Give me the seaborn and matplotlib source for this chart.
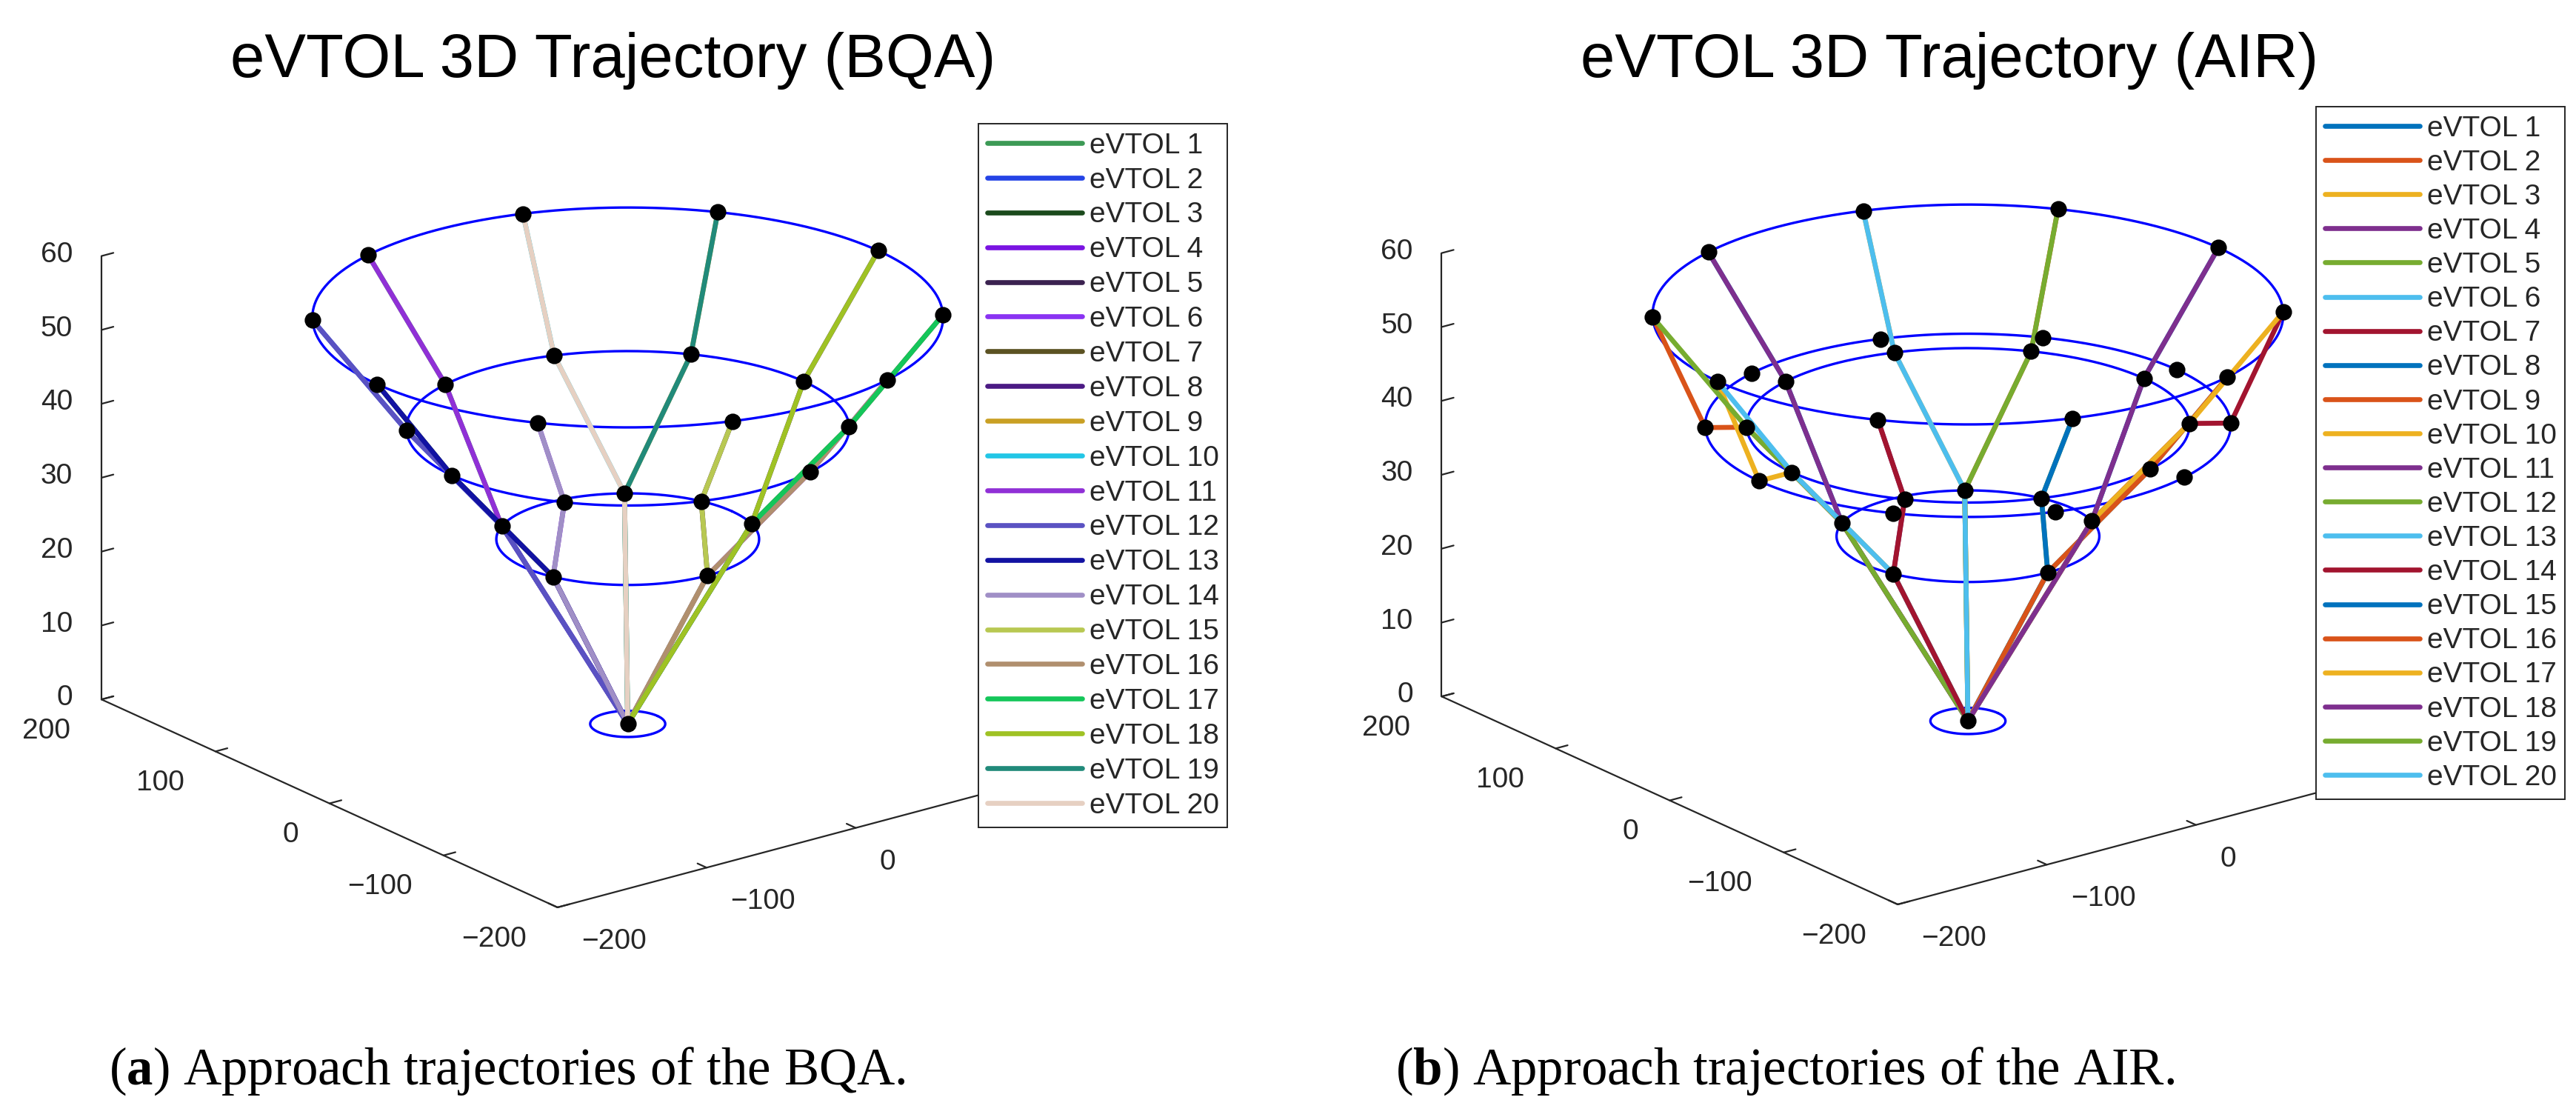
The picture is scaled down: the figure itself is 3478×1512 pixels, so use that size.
import numpy as np
import matplotlib
matplotlib.use("Agg")
import matplotlib.pyplot as plt
import seaborn as sns

sns.set_style("white")
plt.rcParams["font.family"] = ["Liberation Sans", "DejaVu Sans"]
plt.rcParams["mathtext.fontset"] = "custom"
plt.rcParams["mathtext.rm"] = "Liberation Serif"
plt.rcParams["mathtext.bf"] = "Liberation Serif:bold"

W, H = 3478, 1512

# ring heights and radii (A = entry ring, Bo = outer holding ring, B = inner ring, C = final ring, V = pad)
ring_z = {"A": 55, "Bo": 40, "B": 40, "C": 25, "V": 0}
ring_r = {"A": 168, "Bo": 140, "B": 118, "C": 70, "V": 20}

# waypoint angles (deg) on each ring
wp_angles = {
    "A": [0, 36, 72, 108, 144, 180, 216, 252, 288, 324],
    "Bo": [0, 36, 72, 108, 144, 180, 216, 252, 288, 324],
    "B": [0, 36, 72, 108, 144, 180, 216, 252, 288, 324],
    "C": [54, 126, 198, 270, 342],
}
pad_xyz = (0, 0, 0)

names = ["eVTOL %d" % i for i in range(1, 21)]

# BQA approach: ring A -> ring B -> ring C -> pad
bqa_a = [108, 144, 180, 216, 252, 288, 324, 0, 36, 72,
         108, 144, 180, 216, 252, 288, 324, 0, 36, 72]
bqa_b = [108, 144, 180, 216, 252, 288, 324, 0, 36, 72,
         108, 144, 180, 216, 252, 288, 324, 0, 36, 72]
bqa_c = [126, 126, 198, 198, 270, 270, 342, 342, 54, 54,
         126, 126, 198, 198, 270, 270, 342, 342, 54, 54]

# AIR approach: a few eVTOLs pass the outer ring first
air_a = [108, 144, 180, 216, 252, 288, 324, 0, 36, 72,
         108, 144, 180, 216, 252, 288, 324, 0, 36, 72]
air_bo = [None, 144, 180, None, None, None, 324, None, None, None,
          None, None, None, None, None, None, None, None, None, None]
air_b = [108, 144, 180, 216, 252, 288, 324, 0, 36, 72,
         108, 144, 180, 216, 252, 288, 324, 0, 36, 72]
air_c = [126, 126, 198, 198, 270, 270, 342, 342, 54, 54,
         126, 126, 198, 198, 270, 270, 342, 342, 54, 54]

bqa_colors = ["#3c9a55", "#2443e6", "#1b4a1c", "#7a14e2", "#3b2250",
              "#8a33f2", "#5b5222", "#4b1a84", "#c9a024", "#22c6e6",
              "#9030d6", "#5a52c2", "#1212a2", "#a08fc6", "#b8c852",
              "#b08f6e", "#14c65a", "#9fc224", "#218a7a", "#e6d0c2"]
air_colors = sns.color_palette(["#0072BD", "#D95319", "#EDB120", "#7E2F8E",
                                "#77AC30", "#4DBEEE", "#A2142F"], 7) * 3
air_colors = air_colors[:20]

xy_ticks = [-200, -100, 0, 100, 200]
x_ticklabels = ["\u2212200", "\u2212100", "0", "", ""]   # 100 / 200 sit behind the legend
y_ticklabels = ["\u2212200", "\u2212100", "0", "100", "200"]
z_ticks = [0, 10, 20, 30, 40, 50, 60]


def pt(ring, ang):
    t = np.deg2rad(ang)
    r = ring_r[ring]
    return r * np.cos(t), r * np.sin(t), ring_z[ring]


fig = plt.figure(figsize=(W / 200, H / 200), dpi=200)

S = 1172.0


def panel(cx, cy, rings, a, bo, b, c, colors, title, title_x, cap_b, cap_x, leg_xy, lab_sp):
    frac = 0.5135 * S
    rect = [(cx - frac) / W, (H - cy - frac) / H, S / W, S / H]
    ax = fig.add_axes(rect, projection="3d", proj_type="ortho", computed_zorder=False)

    tt = np.linspace(0, 2 * np.pi, 361)
    for rg in rings + ["V"]:
        ax.plot(ring_r[rg] * np.cos(tt), ring_r[rg] * np.sin(tt),
                np.full(tt.shape, ring_z[rg]), color="#0000ff", lw=1.2)

    lines = []
    for i in range(20):
        seq = [pt("A", a[i])]
        if bo is not None and bo[i] is not None:
            seq.append(pt("Bo", bo[i]))
        seq += [pt("B", b[i]), pt("C", c[i]), pad_xyz]
        xyz = np.array(seq, dtype=float)
        ln, = ax.plot(xyz[:, 0], xyz[:, 1], xyz[:, 2], color=colors[i],
                      lw=2.4, label=names[i])
        lines.append(ln)

    for rg in rings:
        xyz = np.array([pt(rg, ang) for ang in wp_angles[rg]], dtype=float)
        ax.plot(xyz[:, 0], xyz[:, 1], xyz[:, 2], ls="none", marker="o",
                ms=7, color="black")
    ax.plot([pad_xyz[0]], [pad_xyz[1]], [pad_xyz[2]], ls="none", marker="o",
            ms=7, color="black")

    ax.set_xlim(-200, 200)
    ax.set_ylim(-200, 200)
    ax.set_zlim(0, 60)
    ax.set_xticks(xy_ticks)
    ax.set_xticklabels(x_ticklabels)
    ax.set_yticks(xy_ticks)
    ax.set_yticklabels(y_ticklabels)
    ax.set_zticks(z_ticks)
    ax.view_init(elev=20.4, azim=-127.4)
    ax.set_box_aspect((1, 1, 0.63), zoom=1.3)
    ax.grid(False)
    for axis in (ax.xaxis, ax.yaxis, ax.zaxis):
        axis.set_pane_color((1, 1, 1, 0))
        axis.pane.set_edgecolor((1, 1, 1, 0))
        axis.line.set_color("#262626")
        axis.line.set_linewidth(0.8)
        axis._axinfo["tick"]["inward_factor"] = 0.0
        axis._axinfo["tick"]["outward_factor"] = 0.25
        axis._axinfo["tick"]["color"] = "#262626"
    ax.tick_params(labelsize=14, colors="#262626")
    ax.tick_params(axis="z", pad=-2)
    for lab in ax.get_xticklabels():
        lab.set_horizontalalignment("left")
        lab.set_verticalalignment("center")
    for lab in ax.get_yticklabels():
        lab.set_horizontalalignment("right")
        lab.set_verticalalignment("center")
    for lab in ax.get_zticklabels():
        lab.set_horizontalalignment("right")
        lab.set_verticalalignment("center")

    ax.legend(handles=lines, loc="upper left",
              bbox_to_anchor=(leg_xy[0] / W, 1 - leg_xy[1] / H),
              bbox_transform=fig.transFigure, fontsize=14, frameon=True,
              fancybox=False, framealpha=1, edgecolor="#262626",
              borderpad=0.3, labelspacing=lab_sp, handlelength=3.3,
              handletextpad=0.25, borderaxespad=0).get_frame().set_linewidth(0.7)

    fig.text(title_x / W, 1 - 104 / H, title, ha="center", va="baseline",
             fontsize=30, color="black")
    fig.text(cap_x / W, 1 - 1464 / H,
             "($\\mathbf{%s}$) Approach trajectories of the %s." % cap_b,
             ha="center", va="baseline", fontsize=25.5,
             family="Liberation Serif", color="black")
    return ax


panel(847.5, 678, ["A", "B", "C"], bqa_a, None, bqa_b, bqa_c, bqa_colors,
      "eVTOL 3D Trajectory (BQA)", 828, ("a", "BQA"), 685, (1321, 167), 0.28)
panel(2657, 674, ["A", "Bo", "B", "C"], air_a, air_bo, air_b, air_c, air_colors,
      "eVTOL 3D Trajectory (AIR)", 2632, ("b", "AIR"), 2410, (3127, 144), 0.26)

fig.savefig("out.png", dpi=200)
